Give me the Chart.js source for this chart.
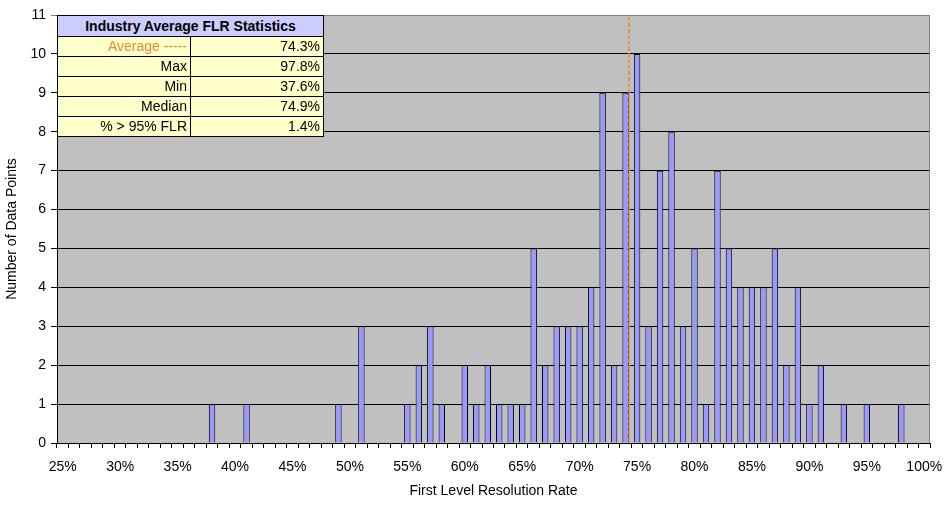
<!DOCTYPE html>
<html>
<head>
<meta charset="utf-8">
<script src="https://cdn.jsdelivr.net/npm/chart.js@4"></script>
<style>
  html, body { margin: 0; padding: 0; background: #ffffff; }
  #wrap { position: relative; width: 945px; height: 506px; }
  #stats {
    position: absolute; border-collapse: collapse;
    font-family: Arial, "Liberation Sans", sans-serif; font-size: 14px; color: #000;
    table-layout: fixed;
  }
  #stats td { border: 1px solid #000; padding: 0 3px 0 3px; height: 19px; line-height: 17px;
    text-align: right; background: #FFFFCC; white-space: nowrap; overflow: hidden; }
  #stats td.hdr { background: #CCCCFF; font-weight: bold; text-align: center; height: 20px; }
  #stats td.avg { color: #E8892F; }
</style>
</head>
<body>
<div id="wrap">
  <canvas id="c" width="945" height="506"></canvas>
  <table id="stats">
    <colgroup><col id="c1"><col id="c2"></colgroup>
    <tbody id="statsBody"></tbody>
  </table>
</div>
<script>
// ---- data ----
const categories = ['25%','26%','27%','28%','29%','30%','31%','32%','33%','34%','35%','36%','37%','38%','39%','40%',
  '41%','42%','43%','44%','45%','46%','47%','48%','49%','50%','51%','52%','53%','54%','55%','56%','57%','58%','59%','60%',
  '61%','62%','63%','64%','65%','66%','67%','68%','69%','70%','71%','72%','73%','74%','75%','76%','77%','78%','79%','80%',
  '81%','82%','83%','84%','85%','86%','87%','88%','89%','90%','91%','92%','93%','94%','95%','96%','97%','98%','99%','100%'];
const counts = [0,0,0,0,0,0,0,0,0,0,0,0,0,1,0,0,
  1,0,0,0,0,0,0,0,1,0,3,0,0,0,1,2,3,1,0,2,
  1,2,1,1,1,5,2,3,3,3,4,9,2,9,10,3,7,8,3,5,
  1,7,5,4,4,4,5,2,4,1,2,0,1,0,1,0,0,1,0,0];
const xTickLabels = ['25%','30%','35%','40%','45%','50%','55%','60%','65%','70%','75%','80%','85%','90%','95%','100%'];
const yTicks = [0,1,2,3,4,5,6,7,8,9,10,11];
const averageFLR = 74.3;
const statsTitle = 'Industry Average FLR Statistics';
const statLabels = ['Average -----','Max','Min','Median','% > 95% FLR'];
const statValues = ['74.3%','97.8%','37.6%','74.9%','1.4%'];

const FONT = 'Arial, "Liberation Sans", sans-serif';

const plotPlugin = {
  id: 'plotDeco',
  beforeDraw(chart) {
    const a = chart.chartArea, ctx = chart.ctx;
    ctx.save();
    ctx.fillStyle = '#C0C0C0';
    ctx.fillRect(a.left, a.top, a.right - a.left, a.bottom - a.top);
    ctx.restore();
  },
  afterDatasetsDraw(chart) {
    const a = chart.chartArea, ctx = chart.ctx;
    const xs = chart.scales.x;
    const idx = averageFLR - parseFloat(categories[0]);
    const x = xs.getPixelForValue(idx);
    ctx.save();
    ctx.strokeStyle = '#E8892F';
    ctx.lineWidth = 1.6;
    ctx.setLineDash([4, 2]);
    ctx.beginPath();
    ctx.moveTo(x, a.top + 2);
    ctx.lineTo(x, a.bottom);
    ctx.stroke();
    ctx.setLineDash([]);
    ctx.strokeStyle = '#808080';
    ctx.lineWidth = 1;
    ctx.beginPath();
    ctx.moveTo(a.left, a.top + 0.5);
    ctx.lineTo(a.right - 0.5, a.top + 0.5);
    ctx.lineTo(a.right - 0.5, a.bottom);
    ctx.stroke();
    ctx.restore();
  }
};

const chart = new Chart(document.getElementById('c'), {
  type: 'bar',
  data: {
    labels: categories,
    datasets: [{
      data: counts,
      backgroundColor: '#9999FF',
      borderColor: '#000000',
      borderWidth: 1,
      borderSkipped: 'bottom',
      categoryPercentage: 1.0,
      barPercentage: 0.56
    }]
  },
  options: {
    responsive: false,
    animation: false,
    devicePixelRatio: 1,
    layout: { padding: { top: 15, right: 15, bottom: 0, left: 0 } },
    plugins: { legend: { display: false }, tooltip: { enabled: false }, title: { display: false } },
    scales: {
      x: {
        offset: true,
        grid: { offset: true, drawOnChartArea: false, drawTicks: true, tickLength: 5, color: '#000000' },
        border: { color: '#000000', width: 1 },
        ticks: {
          autoSkip: false, maxRotation: 0, minRotation: 0, padding: 11,
          color: '#000000', font: { family: FONT, size: 14 },
          callback: function(v) { const l = categories[v]; return xTickLabels.includes(l) ? l : ''; }
        },
        title: { display: true, text: 'First Level Resolution Rate', color: '#000000',
          font: { family: FONT, size: 14 }, padding: { top: 0, bottom: 6 } },
        afterFit: function(s) { s.height = 63; s.paddingLeft = 0; s.paddingRight = 0; }
      },
      y: {
        min: yTicks[0], max: yTicks[yTicks.length - 1],
        grid: { drawTicks: true, tickLength: 6,
          color: function(c) { return c.tick && c.tick.value === yTicks[yTicks.length - 1] ? '#808080' : '#000000'; } },
        border: { color: '#000000', width: 1 },
        ticks: { stepSize: 1, padding: 5, color: '#000000', font: { family: FONT, size: 14 } },
        title: { display: true, text: 'Number of Data Points', color: '#000000',
          font: { family: FONT, size: 14 }, padding: { top: 4, bottom: 0 } },
        afterFit: function(s) { s.width = 57; s.paddingTop = 0; s.paddingBottom = 0; }
      }
    }
  },
  plugins: [plotPlugin]
});

// statistics table overlay, positioned from the chart area
(function buildTable() {
  const body = document.getElementById('statsBody');
  let html = '<tr><td class="hdr" colspan="2">' + statsTitle + '</td></tr>';
  for (let i = 0; i < statLabels.length; i++) {
    html += '<tr><td' + (i === 0 ? ' class="avg"' : '') + '>' + statLabels[i] + '</td><td>' + statValues[i] + '</td></tr>';
  }
  body.innerHTML = html;
  const a = chart.chartArea;
  const t = document.getElementById('stats');
  t.style.left = (a.left) + 'px';
  t.style.top = (a.top) + 'px';
  t.style.width = '266px';
  document.getElementById('c1').style.width = '133px';
  document.getElementById('c2').style.width = '133px';
})();
</script>
</body>
</html>
